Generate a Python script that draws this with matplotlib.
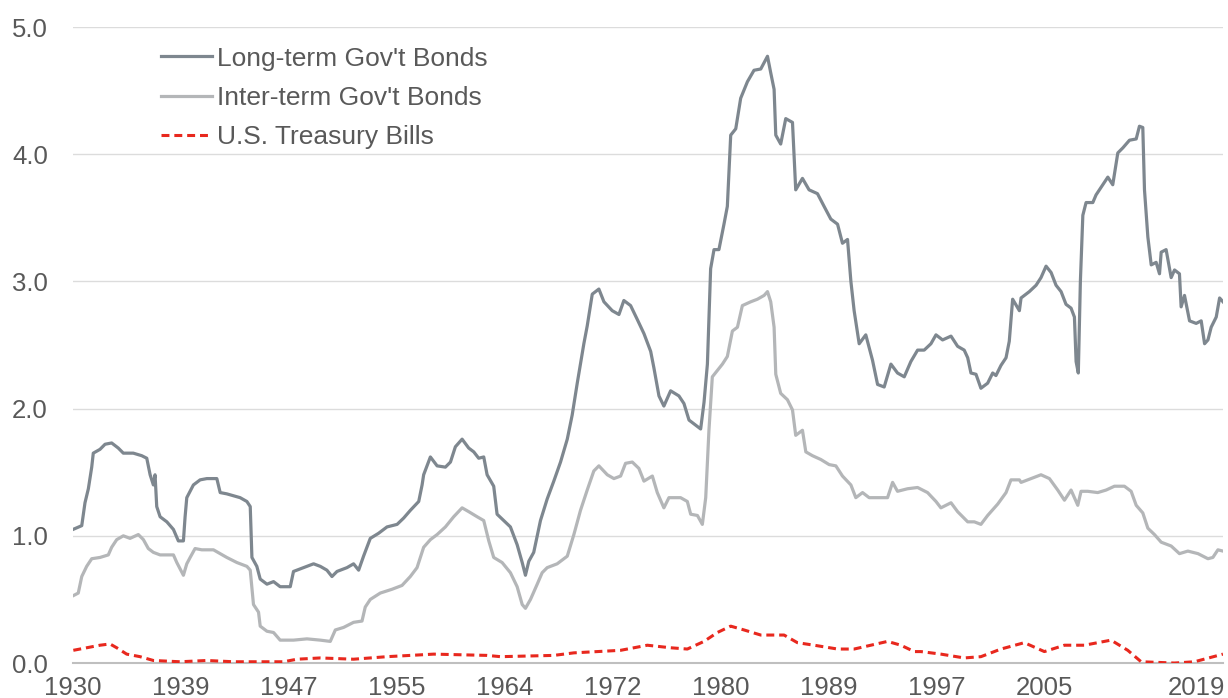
import matplotlib
matplotlib.use('Agg')
import matplotlib.pyplot as plt

plt.rcParams['font.family'] = ['Liberation Sans', 'DejaVu Sans']

# long-term government bonds
lt_years = [1930.92, 1931.60, 1931.85, 1932.11, 1932.37, 1932.49, 1933.01, 1933.40, 1933.91, 1934.42,
            1934.81, 1935.58, 1936.23, 1936.62, 1936.88, 1937.13, 1937.26, 1937.39, 1937.65, 1938.17,
            1938.68, 1939.06, 1939.45, 1939.58, 1939.71, 1940.22, 1940.74, 1941.26, 1942.03, 1942.29,
            1942.80, 1943.83, 1944.35, 1944.61, 1944.74, 1945.12, 1945.38, 1945.90, 1946.41, 1946.92,
            1947.70, 1947.95, 1948.73, 1949.50, 1950.02, 1950.53, 1950.92, 1951.31, 1952.08, 1952.59,
            1952.98, 1953.36, 1953.88, 1954.52, 1955.17, 1955.95, 1956.46, 1956.97, 1957.62, 1957.88,
            1958.00, 1958.52, 1959.04, 1959.68, 1960.07, 1960.45, 1960.97, 1961.48, 1961.87, 1962.25,
            1962.64, 1962.90, 1963.41, 1963.67, 1964.19, 1964.70, 1965.22, 1965.61, 1965.86, 1966.12,
            1966.50, 1967.02, 1967.54, 1968.05, 1968.57, 1969.09, 1969.47, 1969.86, 1970.37, 1970.63,
            1971.02, 1971.53, 1971.92, 1972.56, 1973.08, 1973.46, 1973.98, 1974.50, 1975.01, 1975.53,
            1975.78, 1976.17, 1976.55, 1977.07, 1977.71, 1978.10, 1978.49, 1979.00, 1979.39, 1979.65,
            1979.91, 1980.16, 1980.42, 1980.80, 1981.19, 1981.45, 1981.71, 1982.10, 1982.48, 1983.00,
            1983.51, 1984.03, 1984.55, 1984.80, 1985.06, 1985.19, 1985.57, 1985.96, 1986.48, 1986.73,
            1987.25, 1987.76, 1988.41, 1988.92, 1989.44, 1989.96, 1990.34, 1990.73, 1990.99, 1991.24,
            1991.63, 1992.14, 1992.66, 1993.05, 1993.56, 1994.08, 1994.59, 1995.11, 1995.62, 1996.14,
            1996.65, 1997.17, 1997.56, 1998.07, 1998.72, 1999.23, 1999.74, 2000.01, 2000.26, 2000.65,
            2001.03, 2001.55, 2001.94, 2002.19, 2002.58, 2002.97, 2003.22, 2003.48, 2004.00, 2004.13,
            2004.77, 2005.29, 2005.67, 2006.06, 2006.45, 2006.83, 2007.22, 2007.60, 2007.99, 2008.25,
            2008.38, 2008.55, 2008.71, 2008.90, 2009.15, 2009.67, 2009.92, 2010.44, 2010.83, 2011.21,
            2011.60, 2011.99, 2012.50, 2013.02, 2013.27, 2013.53, 2013.66, 2013.92, 2014.18, 2014.56,
            2014.82, 2014.95, 2015.33, 2015.72, 2015.98, 2016.36, 2016.49, 2016.75, 2017.14, 2017.65,
            2018.04, 2018.30, 2018.56, 2018.81, 2019.20, 2019.46, 2019.72]
lt_vals = [1.05, 1.08, 1.26, 1.37, 1.54, 1.65, 1.68, 1.72, 1.73, 1.69,
           1.65, 1.65, 1.63, 1.61, 1.48, 1.40, 1.48, 1.23, 1.15, 1.11,
           1.05, 0.96, 0.96, 1.15, 1.30, 1.40, 1.44, 1.45, 1.45, 1.34,
           1.33, 1.30, 1.27, 1.23, 0.83, 0.76, 0.66, 0.62, 0.64, 0.60,
           0.60, 0.72, 0.75, 0.78, 0.76, 0.73, 0.68, 0.72, 0.75, 0.78,
           0.73, 0.84, 0.98, 1.02, 1.07, 1.09, 1.14, 1.20, 1.27, 1.40,
           1.48, 1.62, 1.55, 1.54, 1.58, 1.70, 1.76, 1.69, 1.66, 1.61,
           1.62, 1.48, 1.39, 1.17, 1.12, 1.07, 0.93, 0.79, 0.69, 0.80,
           0.87, 1.12, 1.29, 1.43, 1.58, 1.76, 1.95, 2.20, 2.51, 2.65,
           2.90, 2.94, 2.84, 2.77, 2.74, 2.85, 2.81, 2.70, 2.59, 2.45,
           2.32, 2.10, 2.02, 2.14, 2.10, 2.04, 1.91, 1.87, 1.84, 2.05,
           2.35, 3.10, 3.25, 3.25, 3.45, 3.59, 4.15, 4.20, 4.44, 4.57,
           4.66, 4.67, 4.77, 4.64, 4.51, 4.15, 4.08, 4.28, 4.25, 3.72,
           3.81, 3.72, 3.69, 3.59, 3.49, 3.45, 3.30, 3.33, 3.00, 2.77,
           2.51, 2.58, 2.38, 2.19, 2.17, 2.35, 2.28, 2.25, 2.37, 2.46,
           2.46, 2.51, 2.58, 2.54, 2.57, 2.49, 2.46, 2.40, 2.28, 2.27,
           2.16, 2.20, 2.28, 2.26, 2.34, 2.40, 2.53, 2.86, 2.77, 2.87,
           2.92, 2.97, 3.03, 3.12, 3.07, 2.97, 2.92, 2.82, 2.79, 2.72,
           2.37, 2.28, 3.00, 3.52, 3.62, 3.62, 3.68, 3.76, 3.82, 3.76,
           4.01, 4.05, 4.11, 4.12, 4.22, 4.21, 3.72, 3.35, 3.13, 3.15,
           3.06, 3.23, 3.25, 3.03, 3.09, 3.06, 2.80, 2.89, 2.69, 2.67,
           2.69, 2.51, 2.54, 2.64, 2.72, 2.87, 2.84]

# intermediate-term government bonds
it_years = [1930.95, 1931.33, 1931.60, 1931.98, 1932.37, 1933.01, 1933.65, 1933.91, 1934.30, 1934.81,
            1935.33, 1935.97, 1936.36, 1936.74, 1937.13, 1937.65, 1938.68, 1938.94, 1939.45, 1939.71,
            1939.97, 1940.35, 1940.87, 1941.77, 1942.29, 1942.80, 1943.58, 1944.35, 1944.61, 1944.86,
            1945.25, 1945.38, 1945.90, 1946.41, 1946.92, 1947.95, 1948.99, 1950.02, 1950.79, 1951.18,
            1951.82, 1952.59, 1953.24, 1953.49, 1953.88, 1954.65, 1955.56, 1956.33, 1956.97, 1957.49,
            1958.00, 1958.52, 1959.04, 1959.68, 1960.32, 1960.97, 1961.48, 1962.13, 1962.64, 1963.03,
            1963.41, 1964.06, 1964.70, 1965.22, 1965.61, 1965.86, 1966.25, 1966.77, 1967.15, 1967.54,
            1968.31, 1969.09, 1969.60, 1970.11, 1970.63, 1971.14, 1971.53, 1972.18, 1972.69, 1973.21,
            1973.59, 1974.11, 1974.62, 1975.01, 1975.66, 1976.04, 1976.55, 1976.94, 1977.84, 1978.36,
            1978.62, 1979.14, 1979.52, 1979.78, 1980.03, 1980.29, 1980.68, 1981.07, 1981.45, 1981.84,
            1982.23, 1982.61, 1983.26, 1983.77, 1984.29, 1984.55, 1984.80, 1985.06, 1985.19, 1985.57,
            1986.09, 1986.48, 1986.73, 1987.25, 1987.51, 1988.02, 1988.67, 1989.31, 1989.83, 1990.34,
            1990.99, 1991.37, 1991.89, 1992.40, 1993.82, 1994.21, 1994.59, 1995.36, 1996.14, 1996.91,
            1997.56, 1997.94, 1998.72, 1999.23, 2000.01, 2000.52, 2001.03, 2001.55, 2002.33, 2002.97,
            2003.35, 2004.00, 2004.13, 2004.90, 2005.67, 2006.32, 2006.96, 2007.48, 2007.99, 2008.51,
            2008.76, 2009.28, 2010.05, 2010.70, 2011.34, 2012.11, 2012.63, 2013.02, 2013.53, 2013.92,
            2014.43, 2014.95, 2015.72, 2016.36, 2017.01, 2017.79, 2018.56, 2018.94, 2019.33, 2019.72]
it_vals = [0.53, 0.55, 0.68, 0.76, 0.82, 0.83, 0.85, 0.91, 0.97, 1.00,
           0.98, 1.01, 0.97, 0.90, 0.87, 0.85, 0.85, 0.79, 0.69, 0.78,
           0.83, 0.90, 0.89, 0.89, 0.86, 0.83, 0.79, 0.76, 0.73, 0.46,
           0.40, 0.29, 0.25, 0.24, 0.18, 0.18, 0.19, 0.18, 0.17, 0.26,
           0.28, 0.32, 0.33, 0.44, 0.50, 0.55, 0.58, 0.61, 0.68, 0.75,
           0.91, 0.97, 1.01, 1.07, 1.15, 1.22, 1.19, 1.15, 1.12, 0.96,
           0.83, 0.79, 0.71, 0.60, 0.46, 0.43, 0.50, 0.62, 0.71, 0.75,
           0.78, 0.84, 1.01, 1.20, 1.36, 1.51, 1.55, 1.48, 1.45, 1.47,
           1.57, 1.58, 1.53, 1.43, 1.47, 1.34, 1.22, 1.30, 1.30, 1.27,
           1.17, 1.16, 1.09, 1.30, 1.83, 2.25, 2.30, 2.35, 2.41, 2.61,
           2.64, 2.81, 2.84, 2.86, 2.89, 2.92, 2.84, 2.64, 2.27, 2.12,
           2.07, 1.99, 1.79, 1.83, 1.66, 1.63, 1.60, 1.56, 1.55, 1.47,
           1.40, 1.30, 1.34, 1.30, 1.30, 1.42, 1.35, 1.37, 1.38, 1.34,
           1.27, 1.22, 1.26, 1.19, 1.11, 1.11, 1.09, 1.16, 1.25, 1.34,
           1.44, 1.44, 1.42, 1.45, 1.48, 1.45, 1.36, 1.28, 1.36, 1.24,
           1.35, 1.35, 1.34, 1.36, 1.39, 1.39, 1.35, 1.24, 1.18, 1.06,
           1.01, 0.95, 0.92, 0.86, 0.88, 0.86, 0.82, 0.83, 0.89, 0.88]

# treasury bills
tb_years = [1930.95, 1931.98, 1933.01, 1933.78, 1934.30, 1935.07, 1936.10, 1937.13, 1939.19, 1941.26,
            1943.32, 1945.38, 1947.18, 1948.22, 1950.02, 1952.59, 1955.17, 1958.78, 1962.90, 1963.93,
            1968.05, 1969.60, 1973.21, 1975.27, 1977.07, 1978.36, 1979.65, 1980.68, 1981.71, 1982.74,
            1984.03, 1985.83, 1986.86, 1988.15, 1989.96, 1991.24, 1992.53, 1993.82, 1994.85, 1995.88,
            1996.40, 1997.94, 1999.74, 2001.03, 2002.58, 2004.38, 2005.93, 2007.48, 2009.02, 2011.08,
            2012.37, 2013.40, 2015.98, 2017.52, 2019.72]
tb_vals = [0.10, 0.12, 0.14, 0.15, 0.12, 0.07, 0.05, 0.02, 0.01, 0.02,
           0.01, 0.01, 0.01, 0.03, 0.04, 0.03, 0.05, 0.07, 0.06, 0.05,
           0.06, 0.08, 0.10, 0.14, 0.12, 0.11, 0.17, 0.24, 0.29, 0.26,
           0.22, 0.22, 0.16, 0.14, 0.11, 0.11, 0.14, 0.17, 0.14, 0.09,
           0.09, 0.07, 0.04, 0.05, 0.11, 0.16, 0.09, 0.14, 0.14, 0.18,
           0.10, 0.01, 0.00, 0.01, 0.07]

series_names = ["Long-term Gov't Bonds", "Inter-term Gov't Bonds", "U.S. Treasury Bills"]

# category axis: a label every 100 months from the first observation
x_start = 1930.92
x_end = 2019.72
tick_labels = ['1930', '1939', '1947', '1955', '1964', '1972', '1980', '1989', '1997', '2005', '2019']
tick_pos = [x_start + k * 100 / 12 for k in range(10)] + [2017.65]

text_color = '#595959'

fig = plt.figure(figsize=(12.28, 6.98), dpi=100)
ax = fig.add_axes([0.0594, 0.0501, 0.9365, 0.9112])

ax.plot(lt_years, lt_vals, color='#7e878f', lw=2.3, solid_joinstyle='round', label=series_names[0], zorder=3)
ax.plot(it_years, it_vals, color='#b4b6b8', lw=2.3, solid_joinstyle='round', label=series_names[1], zorder=3)
ax.plot(tb_years, tb_vals, color='#e8281e', lw=2.2, ls=(0, (2.6, 1.6)), label=series_names[2], zorder=4)

ax.set_xlim(x_start, x_end)
ax.set_ylim(0, 5.0)
ax.set_yticks([0, 1, 2, 3, 4, 5])
ax.set_yticklabels(['0.0', '1.0', '2.0', '3.0', '4.0', '5.0'])
ax.set_xticks(tick_pos)
ax.set_xticklabels(tick_labels)
ax.tick_params(axis='both', length=0, labelsize=18.5, colors=text_color)
ax.tick_params(axis='y', pad=18)
ax.tick_params(axis='x', pad=9)

ax.grid(axis='y', color='#dcdcdc', lw=1.0)
ax.set_axisbelow(True)
for side in ['left', 'right', 'top']:
    ax.spines[side].set_visible(False)
ax.spines['bottom'].set_color('#bfbfbf')
ax.spines['bottom'].set_linewidth(1.5)

leg = ax.legend(loc='upper left', bbox_to_anchor=(0.077, 0.969), frameon=False,
                fontsize=19, handlelength=1.9, handletextpad=0.22, labelspacing=0.58,
                borderpad=0, borderaxespad=0)
for t in leg.get_texts():
    t.set_color(text_color)

fig.savefig('out.png', dpi=100)
